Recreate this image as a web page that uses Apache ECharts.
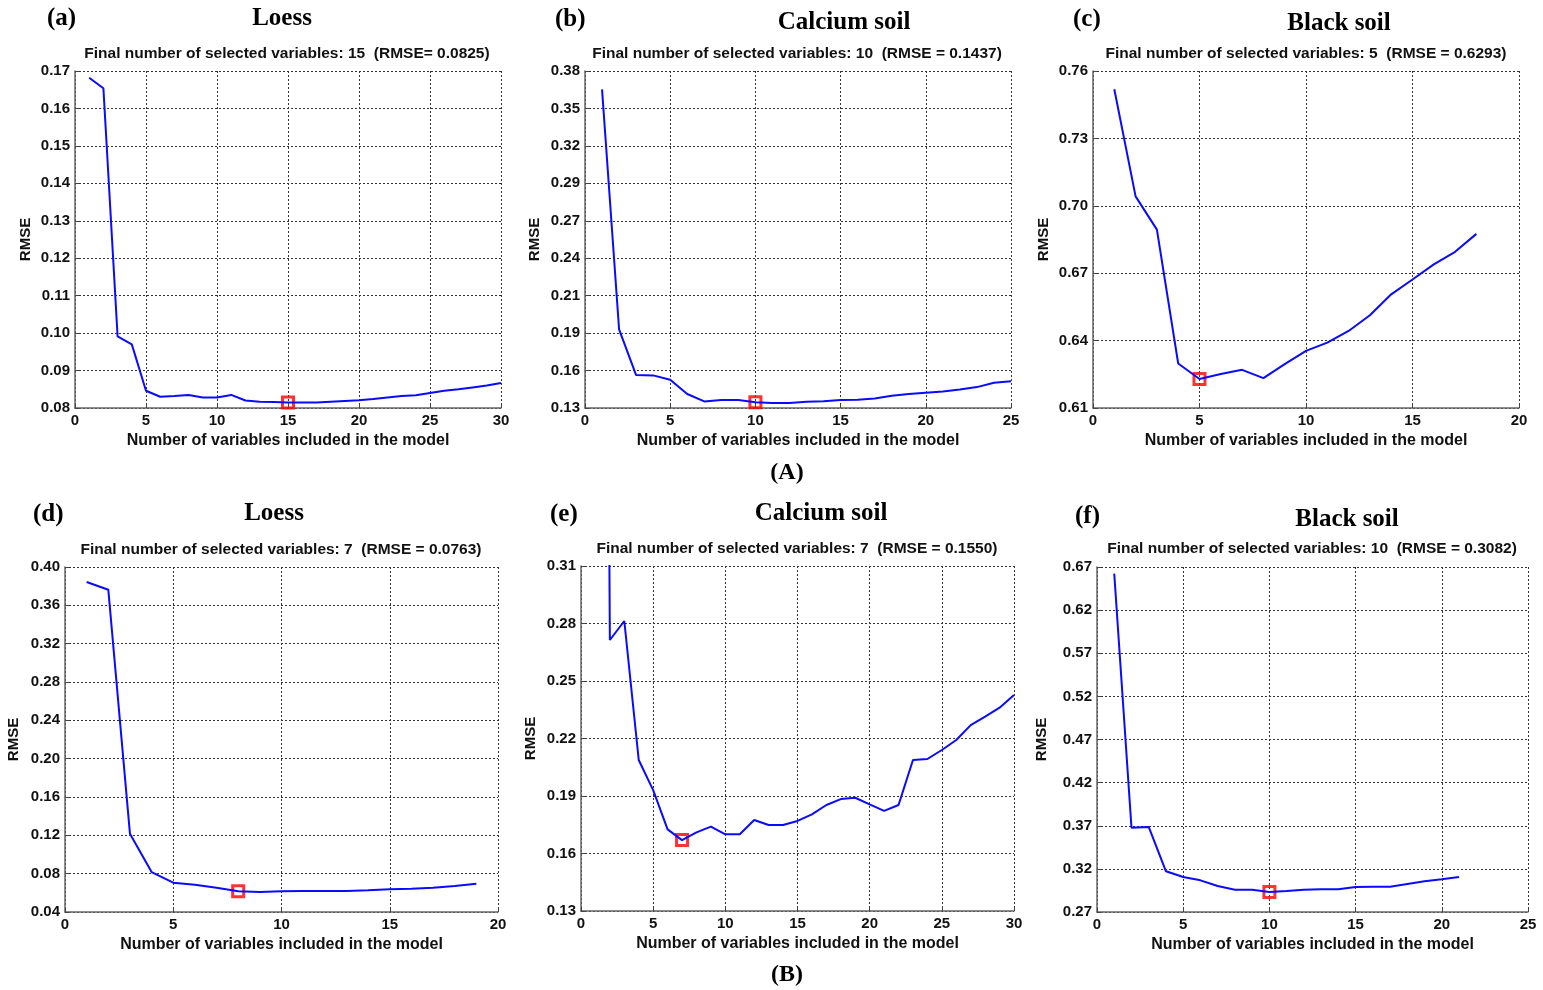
<!DOCTYPE html>
<html>
<head>
<meta charset="utf-8">
<script src="https://cdn.jsdelivr.net/npm/echarts@6/dist/echarts.min.js"></script>
<style>
html, body { margin: 0; padding: 0; background: #fff; }
#main { width: 1543px; height: 990px; }
</style>
</head>
<body>
<div id="main"></div>
<script>
// number of variables (x) and RMSE (y)
var varsA = [1,2,3,4,5,6,7,8,9,10,11,12,13,14,15,16,17,18,19,20,21,22,23,24,25,26,27,28,29,30];
var rmseA = [0.1682,0.1654,0.0991,0.0970,0.0846,0.0830,0.0832,0.0835,0.0828,0.0828,0.0835,0.0820,0.0817,0.0816,0.0815,0.0815,0.0815,0.0817,0.0819,0.0821,0.0824,0.0828,0.0832,0.0834,0.0840,0.0846,0.0850,0.0855,0.0860,0.0867];
var varsB = [1,2,3,4,5,6,7,8,9,10,11,12,13,14,15,16,17,18,19,20,21,22,23,24,25];
var rmseB = [0.3664,0.1884,0.1544,0.1542,0.1510,0.1404,0.1349,0.1359,0.1359,0.1342,0.1337,0.1337,0.1347,0.1350,0.1359,0.1362,0.1371,0.1391,0.1403,0.1413,0.1423,0.1438,0.1455,0.1487,0.1499];
var varsC = [1,2,3,4,5,6,7,8,9,10,11,12,13,14,15,16,17,18];
var rmseC = [0.7519,0.7042,0.6894,0.6298,0.6229,0.6251,0.6270,0.6233,0.6295,0.6354,0.6391,0.6443,0.6513,0.6606,0.6672,0.6739,0.6795,0.6875];
var varsD = [1,2,3,4,5,6,7,8,9,10,11,12,13,14,15,16,17,18,19];
var rmseD = [0.3843,0.3763,0.1217,0.0817,0.0706,0.0685,0.0654,0.0616,0.0609,0.0616,0.0620,0.0620,0.0620,0.0626,0.0637,0.0643,0.0654,0.0671,0.0696];
var varsE = [1,2,3,4,5,6,7,8,9,10,11,12,13,14,15,16,17,18,19,20,21,22,23,24,25,26,27,28,29,30];
var rmseE = [1.5,0.2714,0.2813,0.2088,0.1931,0.1726,0.1670,0.1710,0.1740,0.1700,0.1700,0.1775,0.1749,0.1749,0.1770,0.1804,0.1853,0.1884,0.1891,0.1856,0.1822,0.1853,0.2088,0.2093,0.2140,0.2192,0.2270,0.2314,0.2361,0.2427];
var varsF = [1,2,3,4,5,6,7,8,9,10,11,12,13,14,15,16,17,18,19,20,21];
var rmseF = [0.6623,0.3678,0.3686,0.3172,0.3106,0.3067,0.3001,0.2959,0.2959,0.2932,0.2943,0.2959,0.2963,0.2963,0.2990,0.2994,0.2994,0.3025,0.3056,0.3079,0.3106];

// selected number of variables (red square)
var selA = 15, selB = 10, selC = 5, selD = 8, selE = 7, selF = 10;

// y tick labels as printed
var yTicksA = ['0.08','0.09','0.10','0.11','0.12','0.13','0.14','0.15','0.16','0.17'];
var yTicksB = ['0.13','0.16','0.19','0.21','0.24','0.27','0.29','0.32','0.35','0.38'];
var yTicksC = ['0.61','0.64','0.67','0.70','0.73','0.76'];
var yTicksD = ['0.04','0.08','0.12','0.16','0.20','0.24','0.28','0.32','0.36','0.40'];
var yTicksE = ['0.13','0.16','0.19','0.22','0.25','0.28','0.31'];
var yTicksF = ['0.27','0.32','0.37','0.42','0.47','0.52','0.57','0.62','0.67'];

var yMinA = 0.08, yMaxA = 0.17, xMaxA = 30;
var yMinB = 0.13, yMaxB = 0.38, xMaxB = 25;
var yMinC = 0.61, yMaxC = 0.76, xMaxC = 20;
var yMinD = 0.04, yMaxD = 0.40, xMaxD = 20;
var yMinE = 0.13, yMaxE = 0.31, xMaxE = 30;
var yMinF = 0.27, yMaxF = 0.67, xMaxF = 25;

var subA = 'Final number of selected variables: 15  (RMSE= 0.0825)';
var subB = 'Final number of selected variables: 10  (RMSE = 0.1437)';
var subC = 'Final number of selected variables: 5  (RMSE = 0.6293)';
var subD = 'Final number of selected variables: 7  (RMSE = 0.0763)';
var subE = 'Final number of selected variables: 7  (RMSE = 0.1550)';
var subF = 'Final number of selected variables: 10  (RMSE = 0.3082)';

var panels = [
    {tag: '(a)', name: 'Loess', sub: subA, x: varsA, y: rmseA, sel: selA, ticks: yTicksA, yMin: yMinA, yMax: yMaxA, xMax: xMaxA,
     grid: {left: 75, top: 71, width: 426, height: 337}, gap: 42, tagPos: [47, 19], namePos: [282, 19], subPos: [287, 54]},
    {tag: '(b)', name: 'Calcium soil', sub: subB, x: varsB, y: rmseB, sel: selB, ticks: yTicksB, yMin: yMinB, yMax: yMaxB, xMax: xMaxB,
     grid: {left: 585, top: 71, width: 426, height: 337}, gap: 43, tagPos: [555, 20], namePos: [844, 23], subPos: [797, 54]},
    {tag: '(c)', name: 'Black soil', sub: subC, x: varsC, y: rmseC, sel: selC, ticks: yTicksC, yMin: yMinC, yMax: yMaxC, xMax: xMaxC,
     grid: {left: 1093, top: 71, width: 426, height: 337}, gap: 42, tagPos: [1073, 20], namePos: [1339, 24], subPos: [1306, 54]},
    {tag: '(d)', name: 'Loess', sub: subD, x: varsD, y: rmseD, sel: selD, ticks: yTicksD, yMin: yMinD, yMax: yMaxD, xMax: xMaxD,
     grid: {left: 65, top: 567, width: 433, height: 345}, gap: 44, tagPos: [33, 515], namePos: [274, 514], subPos: [281, 550]},
    {tag: '(e)', name: 'Calcium soil', sub: subE, x: varsE, y: rmseE, sel: selE, ticks: yTicksE, yMin: yMinE, yMax: yMaxE, xMax: xMaxE,
     grid: {left: 581, top: 566, width: 433, height: 345}, gap: 43, tagPos: [550, 515], namePos: [821, 514], subPos: [797, 549]},
    {tag: '(f)', name: 'Black soil', sub: subF, x: varsF, y: rmseF, sel: selF, ticks: yTicksF, yMin: yMinF, yMax: yMaxF, xMax: xMaxF,
     grid: {left: 1097, top: 567, width: 431, height: 345}, gap: 48, tagPos: [1075, 517], namePos: [1347, 520], subPos: [1312, 549]}
];

var sans = 'Liberation Sans, Arial, sans-serif';
var serif = 'Liberation Serif, Times New Roman, serif';
var dotted = {show: true, lineStyle: {color: '#333', type: [2, 2], width: 1}};

var option = {
    backgroundColor: '#fff',
    animation: false,
    grid: [], xAxis: [], yAxis: [], series: [], graphic: []
};

panels.forEach(function (p, i) {
    var step = (p.yMax - p.yMin) / (p.ticks.length - 1);
    // rounded so the top tick is not dropped by float error
    var tickVals = p.ticks.map(function (t, k) { return Math.round((p.yMin + k * step) * 1e6) / 1e6; });
    option.grid.push(p.grid);
    option.xAxis.push({
        type: 'value', gridIndex: i, min: 0, max: p.xMax, interval: 5,
        name: 'Number of variables included in the model', nameLocation: 'middle', nameGap: 25,
        nameTextStyle: {fontFamily: sans, fontWeight: 'bold', fontSize: 16, color: '#111'},
        axisLine: {lineStyle: {color: '#666', width: 1.5}},
        axisTick: {inside: true, length: 4, lineStyle: {color: '#444'}},
        axisLabel: {fontFamily: sans, fontWeight: 'bold', fontSize: 15, color: '#111', margin: 5},
        splitLine: dotted
    });
    option.yAxis.push({
        type: 'value', gridIndex: i, min: p.yMin, max: p.yMax,
        name: 'RMSE', nameLocation: 'middle', nameGap: p.gap, nameRotate: 90,
        nameTextStyle: {fontFamily: sans, fontWeight: 'bold', fontSize: 15, color: '#111'},
        axisLine: {lineStyle: {color: '#666', width: 1.5}},
        axisTick: {inside: true, length: 4, lineStyle: {color: '#444'}, customValues: tickVals},
        axisLabel: {
            fontFamily: sans, fontWeight: 'bold', fontSize: 15, color: '#111', margin: 5,
            customValues: tickVals,
            formatter: function (v) { return p.ticks[Math.round((v - p.yMin) / step)]; }
        },
        splitLine: dotted
    });
    var pts = p.x.map(function (x, k) { return [x, p.y[k]]; });
    option.series.push({
        type: 'line', xAxisIndex: i, yAxisIndex: i, data: pts, showSymbol: false,
        lineStyle: {color: '#0a0aff', width: 2}, clip: true
    });
    option.series.push({
        type: 'scatter', xAxisIndex: i, yAxisIndex: i,
        data: [[p.sel, p.y[p.x.indexOf(p.sel)]]],
        symbol: 'rect', symbolSize: 11,
        itemStyle: {color: 'rgba(0,0,0,0)', borderColor: '#ff0000', borderWidth: 3}
    });
    option.graphic.push(
        {type: 'text', x: p.tagPos[0], y: p.tagPos[1],
         style: {text: p.tag, fontFamily: serif, fontWeight: 'bold', fontSize: 25, fill: '#000', align: 'left', verticalAlign: 'middle'}},
        {type: 'text', x: p.namePos[0], y: p.namePos[1],
         style: {text: p.name, fontFamily: serif, fontWeight: 'bold', fontSize: 25, fill: '#000', align: 'center', verticalAlign: 'middle'}},
        {type: 'text', x: p.subPos[0], y: p.subPos[1],
         style: {text: p.sub, fontFamily: sans, fontWeight: 'bold', fontSize: 15.5, fill: '#111', align: 'center', verticalAlign: 'middle'}}
    );
});

option.graphic.push(
    {type: 'text', x: 787, y: 473, style: {text: '(A)', fontFamily: serif, fontWeight: 'bold', fontSize: 24, fill: '#000', align: 'center', verticalAlign: 'middle'}},
    {type: 'text', x: 787, y: 975, style: {text: '(B)', fontFamily: serif, fontWeight: 'bold', fontSize: 24, fill: '#000', align: 'center', verticalAlign: 'middle'}}
);

var chart = echarts.init(document.getElementById('main'));
chart.setOption(option);
</script>
</body>
</html>
